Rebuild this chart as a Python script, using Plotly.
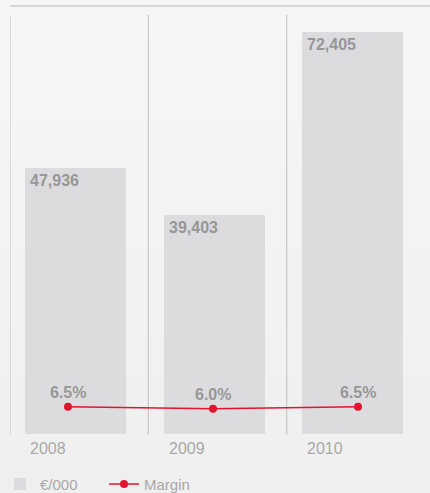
import plotly.graph_objects as go

years = ["2008", "2009", "2010"]
revenue = [47936, 39403, 72405]
margin = [6.5, 6.0, 6.5]
revenue_labels = ["47,936", "39,403", "72,405"]
margin_labels = ["6.5%", "6.0%", "6.5%"]

idx = list(range(len(years)))
GRAY_TXT = "#979797"
BAR = "#dcdcde"
RED = "#e2142d"
LINE = "#c9c9c9"
FONT = "Liberation Sans, Arial"

fig = go.Figure()
fig.add_trace(go.Bar(
    x=idx, y=revenue, name="€/000", width=0.73, offset=0.11,
    marker=dict(color=BAR, line=dict(width=0)), hoverinfo="skip",
))
fig.add_trace(go.Scatter(
    x=idx, y=margin, name="Margin", xaxis="x2", yaxis="y2",
    mode="lines+markers",
    line=dict(color=RED, width=1.5), marker=dict(color=RED, size=8),
))

shapes = []
n = 12
top_c, bot_c = (246, 246, 246), (239, 239, 239)
for i in range(n):
    t = i / (n - 1)
    c = tuple(round(top_c[k] + (bot_c[k] - top_c[k]) * t) for k in range(3))
    shapes.append(dict(type="rect", xref="paper", yref="paper", layer="below",
                       x0=-0.05, x1=1.05, y0=1.04 - (i + 1) * 1.2 / n, y1=1.04 - i * 1.2 / n,
                       fillcolor="rgb(%d,%d,%d)" % c, line=dict(width=0)))
for i in idx:
    shapes.append(dict(type="line", xref="x", yref="paper", x0=i, x1=i, y0=-0.002, y1=1,
                       line=dict(color=LINE, width=1.2), layer="below"))
shapes.append(dict(type="line", xref="paper", yref="paper", x0=0, x1=1.02, y0=1.0215, y1=1.0215,
                   line=dict(color="#cfcfcf", width=1.5)))

annotations = []
for i, v, lab, yr, m, ml in zip(idx, revenue, revenue_labels, years, margin, margin_labels):
    annotations.append(dict(x=i + 0.11, y=v, xref="x", yref="y", text=lab, showarrow=False,
                            xanchor="left", yanchor="top", xshift=3, yshift=-2,
                            font=dict(family=FONT, size=16, color=GRAY_TXT, weight="bold")))
    annotations.append(dict(x=i + 0.11, y=0, xref="x", yref="paper", text=yr, showarrow=False,
                            xanchor="left", yanchor="top", xshift=3, yshift=-4,
                            font=dict(family=FONT, size=16, color="#a9a9a9")))
    annotations.append(dict(x=i, y=m, xref="x2", yref="y2", text=ml, showarrow=False,
                            xanchor="center", yanchor="middle", yshift=14,
                            font=dict(family=FONT, size=16, color=GRAY_TXT, weight="bold")))

fig.update_layout(
    width=430, height=493,
    margin=dict(l=10, r=5, t=15, b=59),
    paper_bgcolor="#f2f2f2", plot_bgcolor="rgba(0,0,0,0)",
    showlegend=True,
    legend=dict(orientation="h", xref="container", yref="container",
                x=0, xanchor="left", y=0.018, yanchor="middle",
                font=dict(family=FONT, size=15, color="#a9a9a9"),
                bgcolor="rgba(0,0,0,0)", itemwidth=30, traceorder="normal",
                entrywidth=59, entrywidthmode="pixels"),
    xaxis=dict(range=[0, 3], visible=False, fixedrange=True),
    xaxis2=dict(range=[-0.4, 2.462], overlaying="x", visible=False),
    yaxis=dict(range=[0, 75470], visible=False),
    yaxis2=dict(range=[0, 100], overlaying="y", visible=False),
    bargap=0, shapes=shapes, annotations=annotations,
)
fig.write_html("out.html", config={"displayModeBar": False},
               post_script="document.body.style.margin='0';document.body.style.overflow='hidden';")
